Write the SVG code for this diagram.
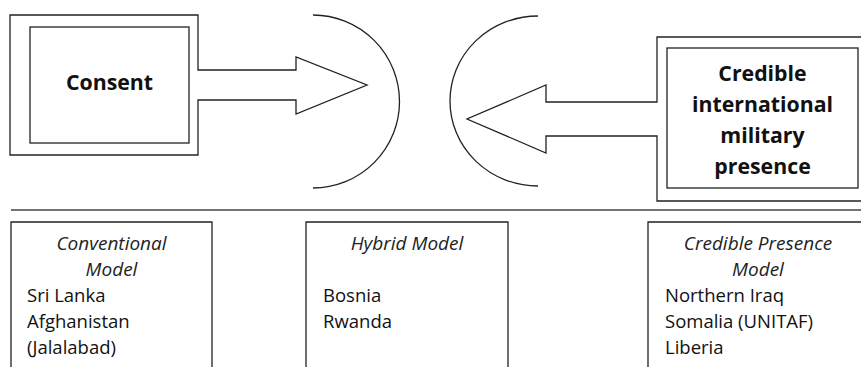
<svg xmlns="http://www.w3.org/2000/svg" width="861" height="367" viewBox="0 0 861 367">
<style>
.ln{fill:none;stroke:#222;stroke-width:1.3}
.bx{fill:#fff;stroke:#222;stroke-width:1.3}
.big{font-family:"Open Sans","DejaVu Sans",sans-serif;font-weight:bold;font-size:21.3px;fill:#111;text-anchor:middle}
.hd{font-family:"Open Sans","DejaVu Sans",sans-serif;font-style:italic;font-size:19px;fill:#222;text-anchor:middle}
.tx{font-family:"Open Sans","DejaVu Sans",sans-serif;font-size:18.5px;fill:#111}
</style>
<rect width="861" height="367" fill="#fff"/>
<g id="consent">
<path class="bx" d="M10,15 H198 V70 H296 V57 L367,85 L296,114 V100 H198 V155 H10 Z"/>
<rect class="bx" x="30" y="27" width="159" height="116"/>
<text class="big" x="109.5" y="90">Consent</text>
</g>
<g id="credible">
<path class="bx" d="M866,37 H657 V102 H546 V85 L467,119 L546,153 V136 H657 V201 H866"/>
<rect class="bx" x="667" y="48" width="191" height="140"/>
<text class="big" x="762.5" y="81">Credible</text>
<text class="big" x="762.5" y="112">international</text>
<text class="big" x="762.5" y="143">military</text>
<text class="big" x="762.5" y="174">presence</text>
</g>
<g id="connectors">
<path class="ln" d="M313,15 A86.5,86.5 0 0 1 313,188"/>
<path class="ln" d="M538,16 A88,85 0 0 0 538,186"/>
<line x1="11" y1="210" x2="861" y2="210" stroke="#444" stroke-width="1.5"/>
</g>
<g id="conventional">
<path class="ln" d="M11,370 V222 H212 V370"/>
<text class="hd" x="111.5" y="250">Conventional</text>
<text class="hd" x="111.5" y="276">Model</text>
<text class="tx" x="27" y="302">Sri Lanka</text>
<text class="tx" x="27" y="328">Afghanistan</text>
<text class="tx" x="27" y="354">(Jalalabad)</text>
</g>
<g id="hybrid">
<path class="ln" d="M306,370 V222 H508 V370"/>
<text class="hd" x="407" y="250">Hybrid Model</text>
<text class="tx" x="323" y="302">Bosnia</text>
<text class="tx" x="323" y="328">Rwanda</text>
</g>
<g id="crediblepresence">
<path class="ln" d="M648,370 V222 H866"/>
<text class="hd" x="758" y="250">Credible Presence</text>
<text class="hd" x="758" y="276">Model</text>
<text class="tx" x="665" y="302">Northern Iraq</text>
<text class="tx" x="665" y="328">Somalia (UNITAF)</text>
<text class="tx" x="665" y="354">Liberia</text>
</g>
</svg>
